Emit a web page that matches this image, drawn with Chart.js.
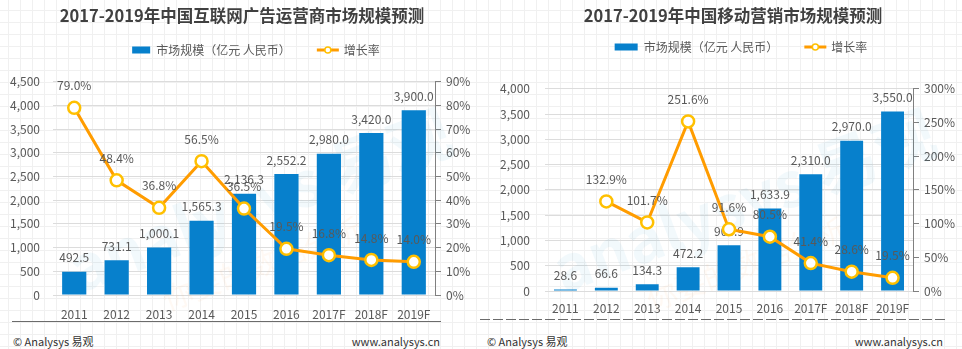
<!DOCTYPE html>
<html lang="zh-CN">

<head>
    <meta charset="UTF-8">
    <meta name="viewport" content="width=device-width, initial-scale=1.0">
    <title>2017-2019年中国市场规模预测</title>
    <script src="https://cdn.jsdelivr.net/npm/chart.js@4"></script>
    <style>
        body {
            margin: 0;
            width: 962px;
            height: 349px;
            overflow: hidden;
            background-color: #fff;
            /* papel quadriculado de fundo */
            background-image:
                linear-gradient(#f0f0f0 1px, transparent 1px),
                linear-gradient(90deg, #f0f0f0 1px, transparent 1px);
            background-size: 12px 12px;
            background-position: 8px 10px;
            font-family: "Noto Sans CJK SC", "Noto Sans", sans-serif;
        }

        .painel {
            position: absolute;
            top: 0;
            height: 349px;
        }

        .painel canvas {
            position: absolute;
            left: 0;
            top: 0;
        }

        .linha {
            position: absolute;
            height: 1px;
        }

        .rodape {
            position: absolute;
            top: 332px;
            font-size: 11px;
            line-height: 18px;
            color: #333;
        }
    </style>
</head>

<body>
    <div class="painel" style="left:0;width:480px">
        <canvas id="graficoPublicidade" width="480" height="330"></canvas>
        <div class="linha" style="left:12px;width:429px;top:321px;background:#6b6b6b"></div>
        <div class="rodape" style="left:13px">© Analysys 易观</div>
        <div class="rodape" style="right:40px">www.analysys.cn</div>
    </div>
    <div class="painel" style="left:480px;width:482px">
        <!-- canvas um pouco mais largo que o painel para o título ficar centralizado -->
        <canvas id="graficoMovel" width="506" height="330"></canvas>
        <div class="linha" style="left:0;width:465px;top:319px;background:repeating-linear-gradient(90deg,#6b6b6b 0 10px,transparent 10px 13px)"></div>
        <div class="rodape" style="left:7px">© Analysys 易观</div>
        <div class="rodape" style="right:19px">www.analysys.cn</div>
    </div>
</body>

</html>
<script>
    const years = ['2011', '2012', '2013', '2014', '2015', '2016', '2017F', '2018F', '2019F'];

    // 互联网广告运营商
    const adMarket = [492.5, 731.1, 1000.1, 1565.3, 2136.3, 2552.2, 2980.0, 3420.0, 3900.0];
    const adGrowth = [79.0, 48.4, 36.8, 56.5, 36.5, 19.5, 16.8, 14.8, 14.0];
    const adAxis = [4500, 500];      // max, step
    const adRateAxis = [90, 10];

    // 移动营销 (2011 没有增长率)
    const mobileMarket = [28.6, 66.6, 134.3, 472.2, 904.9, 1633.9, 2310.0, 2970.0, 3550.0];
    const mobileGrowth = [null, 132.9, 101.7, 251.6, 91.6, 80.5, 41.4, 28.6, 19.5];
    const mobileAxis = [4000, 500];
    const mobileRateAxis = [300, 50];

    const marketLabel = '市场规模（亿元 人民币）';
    const growthLabel = '增长率';

    const FONTE = '"Noto Sans CJK SC", "Noto Sans", sans-serif';
    const AZUL = '#0780cc';
    const LARANJA = '#ff9c00';
    const AMARELO = '#ffc000';
    const CINZA = '#595959';

    Chart.defaults.font.family = FONTE;
    Chart.defaults.font.size = 12;
    Chart.defaults.color = CINZA;

    function fmtValor(v) {
        return v.toLocaleString('en-US', { minimumFractionDigits: 1, maximumFractionDigits: 1 });
    }

    // rótulos de valor em cima das barras e dos pontos
    const rotulos = {
        id: 'rotulos',
        afterDatasetDraw(chart, args) {
            const ds = chart.data.datasets[args.index];
            const ctx = chart.ctx;
            ctx.save();
            ctx.font = '12px ' + FONTE;
            ctx.fillStyle = CINZA;
            ctx.textAlign = 'center';
            ctx.textBaseline = 'middle';
            args.meta.data.forEach((el, i) => {
                const v = ds.data[i];
                if (v == null) return;
                if (ds.type === 'line') {
                    ctx.fillText(v.toFixed(1) + '%', el.x, el.y - 22);
                } else {
                    ctx.fillText(fmtValor(v), el.x, el.y - 14);
                }
            });
            ctx.restore();
        }
    };

    // legenda desenhada a mão: retângulo azul + linha laranja com bolinha
    const legendaLinha = {
        id: 'legendaLinha',
        afterDraw(chart, args, opts) {
            const ctx = chart.ctx;
            const barra = chart.data.datasets.find(d => d.type === 'bar');
            const linha = chart.data.datasets.find(d => d.type === 'line');
            ctx.save();
            ctx.font = '12px ' + FONTE;
            const w1 = ctx.measureText(barra.label).width;
            const w2 = ctx.measureText(linha.label).width;
            const total = opts.box + 6 + w1 + 26 + 22 + 5 + w2;
            const area = chart.chartArea;
            let x = (area.left + area.right) / 2 + opts.offset - total / 2;
            const y = opts.y;

            ctx.fillStyle = AZUL;
            ctx.fillRect(x, y - 3.5, opts.box, 7);
            x += opts.box + 6;
            ctx.fillStyle = CINZA;
            ctx.textBaseline = 'middle';
            ctx.fillText(barra.label, x, y);
            x += w1 + 26;

            ctx.strokeStyle = LARANJA;
            ctx.lineWidth = 3;
            ctx.beginPath();
            ctx.moveTo(x, y);
            ctx.lineTo(x + 22, y);
            ctx.stroke();
            ctx.beginPath();
            ctx.arc(x + 11, y, 3, 0, Math.PI * 2);
            ctx.fillStyle = '#fff';
            ctx.fill();
            ctx.strokeStyle = AMARELO;
            ctx.lineWidth = 1.5;
            ctx.stroke();
            x += 22 + 5;
            ctx.fillStyle = CINZA;
            ctx.fillText(linha.label, x, y);
            ctx.restore();
        }
    };

    // marca d'água clarinha atrás das barras
    const marcaDagua = {
        id: 'marcaDagua',
        beforeDatasetsDraw(chart) {
            const ctx = chart.ctx;
            const a = chart.chartArea;
            ctx.save();
            ctx.translate(a.left + a.width * 0.55, a.top + a.height * 0.6);
            ctx.rotate(-0.36);
            ctx.textAlign = 'center';
            ctx.textBaseline = 'middle';
            ctx.font = 'bold 62px ' + FONTE;
            ctx.fillStyle = 'rgba(0, 128, 204, 0.05)';
            ctx.fillText('analysys 易观', 0, -10);
            ctx.font = '30px ' + FONTE;
            ctx.fillStyle = 'rgba(255, 150, 60, 0.06)';
            ctx.fillText('你要的数据分析', -20, 50);
            ctx.restore();
        }
    };

    function gerarGrafico(id, titulo, mercado, crescimento, eixo, eixoTaxa, medidas) {
        const ctx = document.getElementById(id);
        return new Chart(ctx, {
            data: {
                labels: years,
                datasets: [
                    {
                        type: 'line',
                        label: growthLabel,
                        data: crescimento,
                        yAxisID: 'y1',
                        order: 0,
                        borderColor: LARANJA,
                        borderWidth: 3,
                        pointRadius: 6,
                        pointBorderWidth: 2.5,
                        pointBackgroundColor: '#fff',
                        pointBorderColor: AMARELO,
                        tension: 0,
                    },
                    {
                        type: 'bar',
                        label: marketLabel,
                        data: mercado,
                        yAxisID: 'y',
                        order: 1,
                        backgroundColor: AZUL,
                        categoryPercentage: 1,
                        barPercentage: medidas.barra,
                    },
                ],
            },
            options: {
                responsive: false,
                animation: false,
                layout: {
                    padding: { left: medidas.esq, right: 0, top: 0, bottom: 0 },
                },
                plugins: {
                    legend: { display: false },
                    tooltip: { enabled: false },
                    title: {
                        display: true,
                        text: titulo,
                        color: '#404040',
                        font: { size: 16.5, weight: 'bold' },
                        padding: { top: 6, bottom: medidas.tituloBaixo },
                    },
                    legendaLinha: { y: medidas.legendaY, offset: 12, box: medidas.caixa },
                },
                scales: {
                    x: {
                        grid: { display: false, drawTicks: false },
                        border: { display: false },
                        ticks: { padding: medidas.xPad },
                        afterFit(s) { s.height = medidas.xAltura; },
                    },
                    y: {
                        position: 'left',
                        min: 0,
                        max: eixo[0],
                        ticks: {
                            stepSize: eixo[1],
                            padding: medidas.yPad,
                            callback: v => v.toLocaleString('en-US'),
                        },
                        grid: { color: '#dcdcdc', drawTicks: false },
                        border: { display: false },
                        afterFit(s) { s.width = medidas.yLargura; },
                    },
                    y1: {
                        position: 'right',
                        min: 0,
                        max: eixoTaxa[0],
                        ticks: {
                            stepSize: eixoTaxa[1],
                            padding: 5,
                            callback: v => v + '%',
                        },
                        grid: { drawOnChartArea: false, color: '#808080', tickLength: 6 },
                        border: { display: true, color: '#808080' },
                        afterFit(s) { s.width = medidas.y1Largura; },
                    },
                },
            },
            plugins: [marcaDagua, rotulos, legendaLinha],
        });
    }

    gerarGrafico('graficoPublicidade', '2017-2019年中国互联网广告运营商市场规模预测',
        adMarket, adGrowth, adAxis, adRateAxis,
        { esq: 4, yLargura: 49, y1Largura: 45, tituloBaixo: 56, xAltura: 35, xPad: 12, yPad: 13, legendaY: 50, caixa: 18, barra: 0.57 });

    gerarGrafico('graficoMovel', '2017-2019年中国移动营销市场规模预测',
        mobileMarket, mobileGrowth, mobileAxis, mobileRateAxis,
        { esq: 0, yLargura: 65, y1Largura: 73, tituloBaixo: 63, xAltura: 39, xPad: 10, yPad: 15, legendaY: 47, caixa: 23, barra: 0.56 });
</script>
